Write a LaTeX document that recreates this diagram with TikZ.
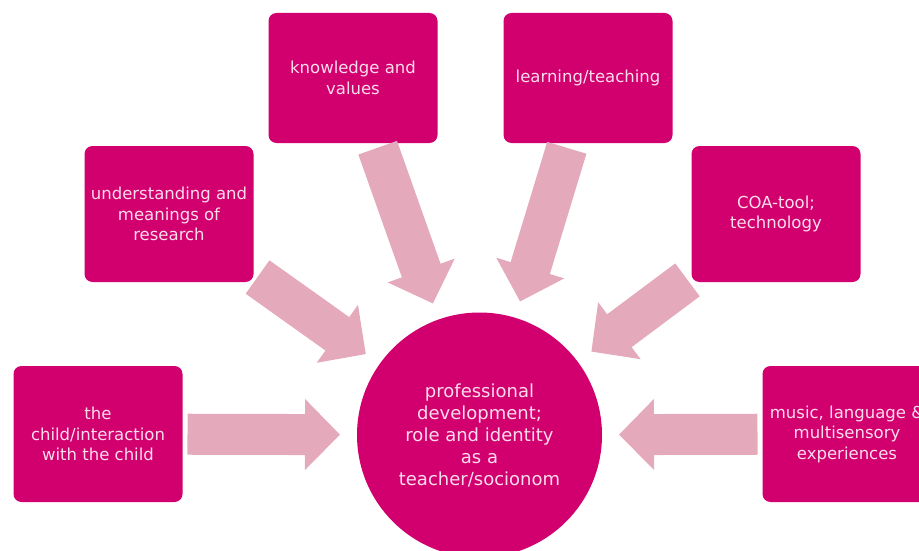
\documentclass[tikz,border=0pt]{standalone}
\usepackage{fontspec}
\setmainfont{DejaVu Sans}
\usetikzlibrary{arrows.meta}
\definecolor{boxmag}{HTML}{D2006E}
\definecolor{arrpink}{HTML}{E4A9BB}
\definecolor{boxtxt}{HTML}{FADCEB}
\begin{document}
\begin{tikzpicture}[x=1pt,y=-1pt,
  box/.style={fill=boxmag, rounded corners=8pt, minimum width=169pt, minimum height=136pt,
    inner sep=0pt, outer sep=0pt, text=boxtxt, align=center,
    font=\fontsize{16.5}{20.5}\selectfont},
  topbox/.style={box, minimum height=130pt},
  hub/.style={circle, fill=boxmag, minimum size=245pt, inner sep=0pt, outer sep=0pt,
    text=boxtxt, align=center, font=\fontsize{18}{22}\selectfont},
  feed/.style={draw=arrpink, line width=41pt, -{Triangle[width=69pt,length=35pt]},
    shorten <=5pt, shorten >=17pt}
]
\useasboundingbox (0,0) rectangle (919,551);
\node[hub] (c) at (479.5,435) {professional\\development;\\role and identity\\as a\\teacher/socionom};
\node[topbox] (kv) at (353,78) {knowledge and\\values};
\node[topbox] (lt) at (588,78) {learning/teaching};
\node[box] (ur) at (169,214) {understanding and\\meanings of\\research};
\node[box] (coa) at (776,214) {COA-tool;\\technology};
\node[box] (ch) at (98,434) {the\\child/interaction\\with the child};
\node[box] (mu) at (847,434) {music, language \&\\multisensory\\experiences};
\draw[feed] (kv) -- (c);
\draw[feed] (lt) -- (c);
\draw[feed] (ur) -- (c);
\draw[feed] (coa) -- (c);
\draw[feed] (ch) -- (c);
\draw[feed] (mu) -- (c);
\end{tikzpicture}
\end{document}
